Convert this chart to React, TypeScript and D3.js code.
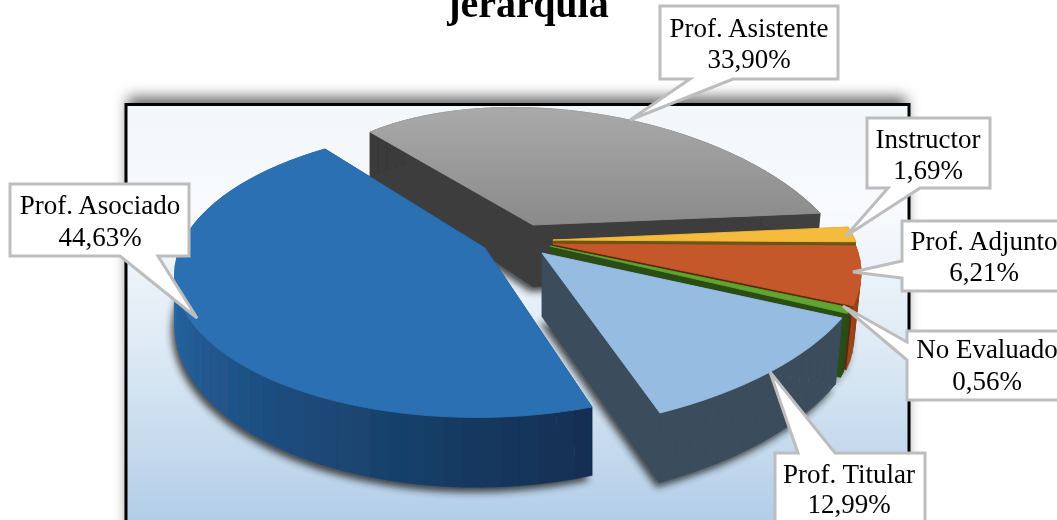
import React from "react";
import * as d3 from "d3";

// ---------- data ----------
const categories = ["Prof. Asistente", "Instructor", "Prof. Adjunto", "No Evaluado", "Prof. Titular", "Prof. Asociado"];
const percentages = [33.9, 1.69, 6.21, 0.56, 12.99, 44.63];
const valueLabels = ["33,90%", "1,69%", "6,21%", "0,56%", "12,99%", "44,63%"];
const topColors = ["url(#grayTop)", "#f5bb3c", "#c4592a", "#5fa52f", "#97bce2", "#2a70b3"];
const wallStartColors = ["#3b3b3b", "#6b5514", "#7c3512", "#2b4d18", "#3a4d5c", "#122f52"];
const wallEndColors = ["#404040", "#6b5514", "#9a4519", "#2b4d18", "#3a4d5c", "#2768a6"];
const wallFade = [1, 1, 1, 1, 1, 0.62];
const radialWallColors = ["#3d3d3d", "#6b5514", "#5a2810", "#2b4d18", "#3a4d5c", "#122f52"];
const titleText = "jerarquía";

// ---------- projection calibration: each slice's disc to screen ----------
type Pt = [number, number];
const clusterRim: [number, number, number][] = [[81, 848, 227], [98, 861, 270], [111, 851, 306]];
const frames: { apex: Pt; rim: [number, number, number][]; shift?: Pt; depth: [number, number] }[] = [
  { apex: [533, 225], rim: [[-41, 370, 132], [20, 590, 113], [81, 820, 213]], depth: [23.6, 0.17] },
  { apex: [553, 240], rim: clusterRim, shift: [0, 0], depth: [64, 0] },
  { apex: [553, 240], rim: clusterRim, shift: [0, 4], depth: [64, 0] },
  { apex: [553, 240], rim: clusterRim, shift: [-3, 6], depth: [64, 0] },
  { apex: [542, 253], rim: [[111.5, 842, 318], [135, 770, 372], [158.3, 660, 413]], depth: [55, 0.035] },
  { apex: [485, 248], rim: [[158.3, 592, 407], [238.6, 190, 320], [319, 325, 149]], depth: [12.3, 0.138] },
];
const convergeFromX = 640;
const convergeRate = 0.032;

// ---------- callouts ----------
const callouts: { outline: Pt[]; cx: number; lines: [number, number] }[] = [
  { outline: [[660, 6], [838, 6], [838, 79], [733, 79], [630, 120], [690, 79], [660, 79]], cx: 749, lines: [37, 68] },
  { outline: [[867, 118], [990, 118], [990, 188], [920, 188], [846, 236], [888, 188], [867, 188]], cx: 928, lines: [148, 179] },
  { outline: [[902, 221], [1070, 221], [1070, 291], [902, 291], [902, 278], [853, 272], [902, 261]], cx: 984, lines: [250, 281] },
  { outline: [[907, 331], [1070, 331], [1070, 400], [907, 400], [907, 360], [843, 306], [907, 342]], cx: 987, lines: [358, 390] },
  { outline: [[775, 453], [798, 453], [770, 372], [835, 453], [925, 453], [925, 540], [775, 540]], cx: 849, lines: [483, 513] },
  { outline: [[10, 184], [189, 184], [189, 256], [158, 256], [197, 318], [120, 256], [10, 256]], cx: 100, lines: [214, 246] },
];

// ---------- helpers ----------
const rad = (d: number) => (d * Math.PI) / 180;
const disc = (a: number): Pt => [Math.sin(a), -Math.cos(a)];

function homography(src: Pt[], dst: Pt[]) {
  const m: number[][] = [];
  src.forEach(([u, v], i) => {
    const [x, y] = dst[i];
    m.push([u, v, 1, 0, 0, 0, -u * x, -v * x, x]);
    m.push([0, 0, 0, u, v, 1, -u * y, -v * y, y]);
  });
  for (let c = 0; c < 8; c++) {
    let p = c;
    for (let r = c + 1; r < 8; r++) if (Math.abs(m[r][c]) > Math.abs(m[p][c])) p = r;
    [m[c], m[p]] = [m[p], m[c]];
    for (let r = 0; r < 8; r++) {
      if (r === c) continue;
      const f = m[r][c] / m[c][c];
      for (let k = c; k < 9; k++) m[r][k] -= f * m[c][k];
    }
  }
  const h = m.map((row, i) => row[8] / row[i]);
  return ([u, v]: Pt): Pt => {
    const w = h[6] * u + h[7] * v + 1;
    return [(h[0] * u + h[1] * v + h[2]) / w, (h[3] * u + h[4] * v + h[5]) / w];
  };
}

const line = d3.line<Pt>();
const pie = d3.pie<number>().sort(null).startAngle(rad(-41)).endAngle(rad(319));
const arcs = pie(percentages);

const slices = arcs.map((arc, i) => {
  const f = frames[i];
  const [sx, sy] = f.shift ?? [0, 0];
  const H = homography(
    [[0, 0], ...f.rim.map((r) => disc(rad(r[0])))],
    [f.apex, ...f.rim.map((r): Pt => [r[1], r[2]])]
  );
  const project = (p: Pt): Pt => {
    const q = H(p);
    return [q[0] + sx, q[1] + sy];
  };
  const n = Math.max(4, Math.ceil((arc.endAngle - arc.startAngle) / rad(3)));
  const angle = d3.scaleLinear().domain([0, n]).range([arc.startAngle, arc.endAngle]);
  const rim = d3.range(n + 1).map((k) => project(disc(angle(k))));
  const apex = project([0, 0]);
  const drop = (p: Pt): Pt => [
    p[0] - Math.max(0, p[0] - convergeFromX) * convergeRate,
    p[1] + f.depth[0] + f.depth[1] * p[1],
  ];
  const color = d3
    .scaleLinear<string>()
    .domain([0, (n - 1) * wallFade[i]])
    .range([wallStartColors[i], wallEndColors[i]])
    .interpolate(d3.interpolateRgb)
    .clamp(true);
  const walls = d3.range(n).map((k) => ({
    d: line([rim[k], rim[k + 1], drop(rim[k + 1]), drop(rim[k])])! + "Z",
    fill: color(k),
  }));
  const radial = [
    line([apex, rim[0], drop(rim[0]), drop(apex)])! + "Z",
    line([apex, rim[n], drop(rim[n]), drop(apex)])! + "Z",
  ];
  const top = line([apex, ...rim])! + "Z";
  const bottom = line([drop(apex), ...rim.map(drop)])! + "Z";
  return { walls, radial, top, bottom, i };
});

export default function App() {
  return (
    <svg width={1057} height={520} style={{ position: "absolute", left: 0, top: 0, display: "block", background: "#fff" }}>
      <defs>
        <linearGradient id="plotBg" x1="0" y1="106" x2="0" y2="520" gradientUnits="userSpaceOnUse">
          <stop offset="0" stopColor="#f3f7fa" />
          <stop offset="0.25" stopColor="#f8fafd" />
          <stop offset="0.6" stopColor="#dce9f4" />
          <stop offset="1" stopColor="#b3cee8" />
        </linearGradient>
        <linearGradient id="grayTop" x1="0" y1="110" x2="0" y2="225" gradientUnits="userSpaceOnUse">
          <stop offset="0" stopColor="#a9a9a9" />
          <stop offset="1" stopColor="#8a8a8a" />
        </linearGradient>
        <filter id="soft" x="-5%" y="-5%" width="110%" height="110%"><feGaussianBlur stdDeviation="0.5" /></filter>
        <filter id="shade" x="-10%" y="-10%" width="120%" height="120%"><feGaussianBlur stdDeviation="3.5" /></filter>
        <filter id="frameShade" x="-5%" y="-10%" width="110%" height="120%"><feGaussianBlur stdDeviation="7" /></filter>
      </defs>
      <g filter="url(#soft)">
        <rect x={128} y={97} width={778} height={440} fill="#666" filter="url(#frameShade)" />
        <rect x={126} y={104.5} width={783} height={430} fill="url(#plotBg)" stroke="#000" strokeWidth={3} />
        {slices.map((s) => (
          <g key={categories[s.i]}>
            <path d={s.bottom} fill="#222" opacity={s.i === 5 || s.i === 4 || s.i === 0 ? 0.8 : 0.6} transform="translate(-3,5)" filter="url(#shade)" />
            {s.radial.map((d, k) => (
              <path key={k} d={d} fill={radialWallColors[s.i]} stroke={radialWallColors[s.i]} strokeWidth={0.5} />
            ))}
            {s.walls.map((w, k) => (
              <path key={k} d={w.d} fill={w.fill} stroke={w.fill} strokeWidth={0.5} />
            ))}
            <path d={s.top} fill={topColors[s.i]} stroke={topColors[s.i]} strokeWidth={0.9} />
          </g>
        ))}
        <text x={528} y={17} textAnchor="middle" fontFamily="Liberation Serif" fontWeight="bold" fontSize={40} fill="#000">
          {titleText}
        </text>
        {callouts.map((c, i) => (
          <g key={categories[i]}>
            <path d={line(c.outline)! + "Z"} fill="#fff" stroke="#bdbdbd" strokeWidth={3} strokeLinejoin="miter" />
            <g fontFamily="Liberation Serif" fontSize={27} fill="#000" textAnchor="middle">
              <text x={c.cx} y={c.lines[0]}>{categories[i]}</text>
              <text x={c.cx} y={c.lines[1]}>{valueLabels[i]}</text>
            </g>
          </g>
        ))}
      </g>
    </svg>
  );
}
